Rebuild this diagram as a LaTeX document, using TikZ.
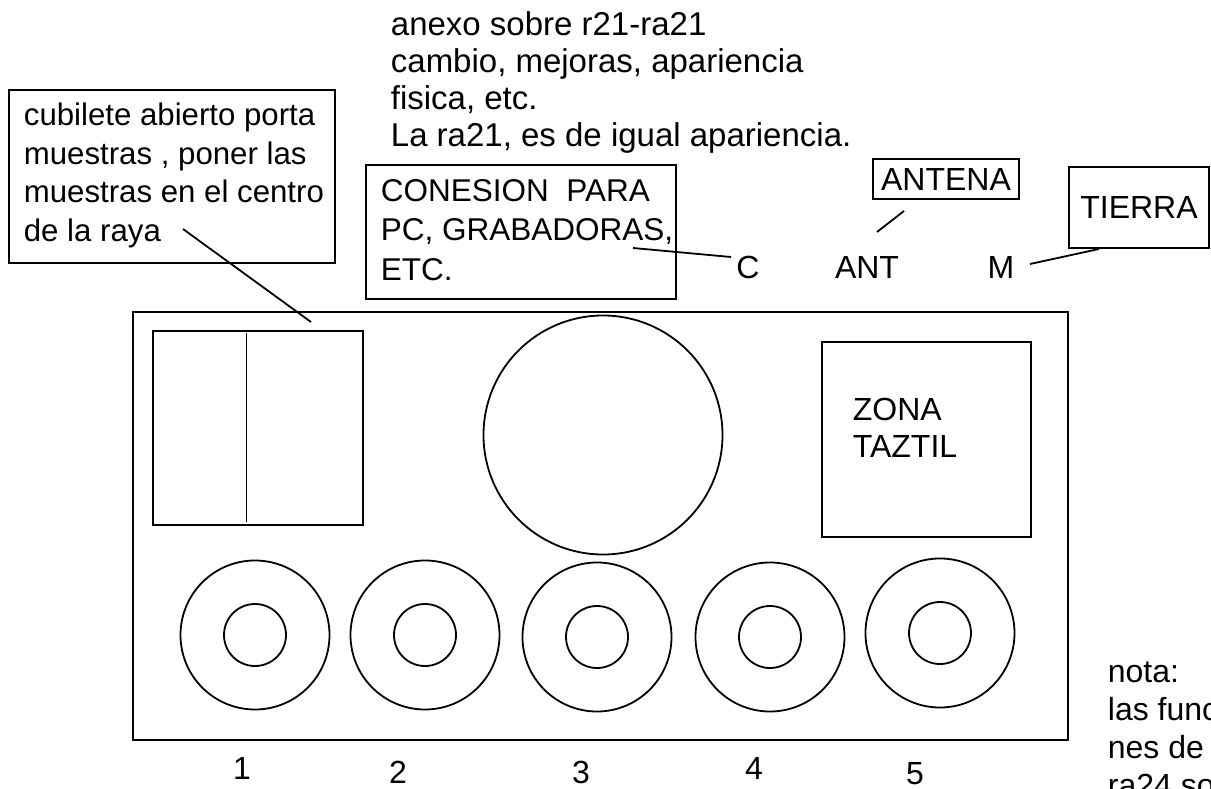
\documentclass[tikz,border=0pt]{standalone}
\usepackage{fontspec}
\setmainfont{Liberation Sans}
\newcommand\txtblock[1]{\begin{tabular}[t]{@{}l@{}}#1\end{tabular}}
\begin{document}
\begin{tikzpicture}[x=1pt,y=-1pt,line width=1.8pt,
  txt/.style={anchor=base west,inner sep=0pt,font=\fontsize{32}{38.5}\selectfont},
  lbl/.style={anchor=base,inner sep=0pt,font=\fontsize{32}{38}\selectfont},
  boxst/.style={draw,inner sep=0pt,line width=1.8pt},
  conn/.style={line width=1.8pt}]
\useasboundingbox (0,0) rectangle (1211,789);
\clip (0,0) rectangle (1211,789);
\fill[white] (0,0) rectangle (1211,789);

% top note
\node[txt,font=\fontsize{33}{37}\selectfont] (anexo) at (390,36)
  {\txtblock{anexo sobre r21-ra21\\cambio, mejoras, apariencia\\fisica, etc.\\La ra21, es de igual apariencia.}};

% cubilete callout
\node[boxst,minimum width=326pt,minimum height=173pt] (cubbox) at (172,176.5) {};
\node[txt,font=\fontsize{31.2}{38.5}\selectfont] (cubtxt) at (23,126)
  {\txtblock{cubilete abierto porta\\muestras , poner las\\muestras en el centro\\de la raya}};
\coordinate (rayaend) at (183,229);
\coordinate (rayatip) at (311,322);
\draw[conn] (rayaend) -- (rayatip);

% conexion callout
\node[boxst,minimum width=310pt,minimum height=134pt] (conbox) at (521,232) {};
\node[txt,font=\fontsize{31.5}{39}\selectfont] (contxt) at (380,202)
  {\txtblock{CONESION\ \ PARA\\PC, GRABADORAS,\\ETC.}};

% connectors C ANT M
\node[lbl] (C) at (748,278) {C};
\node[lbl] (ANT) at (867,278) {ANT};
\node[lbl] (M) at (1001,278) {M};
\coordinate (grabend) at (633,248);
\coordinate (cend) at (731,257);
\draw[conn] (grabend) -- (cend);

\node[boxst,minimum width=146pt,minimum height=40pt,font=\fontsize{32}{38}\selectfont] (antena) at (946,179) {ANTENA};
\coordinate (antA) at (904,211);
\coordinate (antB) at (877,232);
\draw[conn] (antA) -- (antB);

\node[boxst,minimum width=140pt,minimum height=81pt,font=\fontsize{32}{38}\selectfont] (tierra) at (1139,207.5) {TIERRA};
\coordinate (mA) at (1030,264);
\coordinate (mB) at (1099,249);
\draw[conn] (mA) -- (mB);

% main panel
\node[boxst,minimum width=935pt,minimum height=428pt] (panel) at (600.5,526) {};
\node[boxst,minimum width=210pt,minimum height=194pt] (cub) at (258,428) {};
\coordinate (rayaT) at (246.5,333);
\coordinate (rayaB) at (246.5,522);
\draw[conn] (rayaT) -- (rayaB);
\node[boxst,circle,minimum size=239pt] (display) at (603,435) {};
\node[boxst,minimum width=209pt,minimum height=195pt] (zona) at (926.5,439.5) {};
\node[txt,font=\fontsize{32}{37}\selectfont] (zonatxt) at (852,420) {\txtblock{ZONA\\TAZTIL}};

% knobs
\foreach \n/\x/\y in {1/255/635,2/425/635,3/597/637,4/770/637,5/940/633}{
  \node[boxst,circle,minimum size=149pt] (knob\n) at (\x,\y) {};
  \node[boxst,circle,minimum size=62pt] (knobin\n) at (\x,\y) {};
}
\node[lbl] (n1) at (242,779) {1};
\node[lbl] (n2) at (398,783) {2};
\node[lbl] (n3) at (581,783) {3};
\node[lbl] (n4) at (754,779) {4};
\node[lbl] (n5) at (915,784) {5};

% nota (cut by the page edge)
\node[txt,font=\fontsize{32}{38}\selectfont] (nota) at (1107,682)
  {\txtblock{nota:\\las funcio\\nes de la\\ra24 son}};
\end{tikzpicture}
\end{document}
